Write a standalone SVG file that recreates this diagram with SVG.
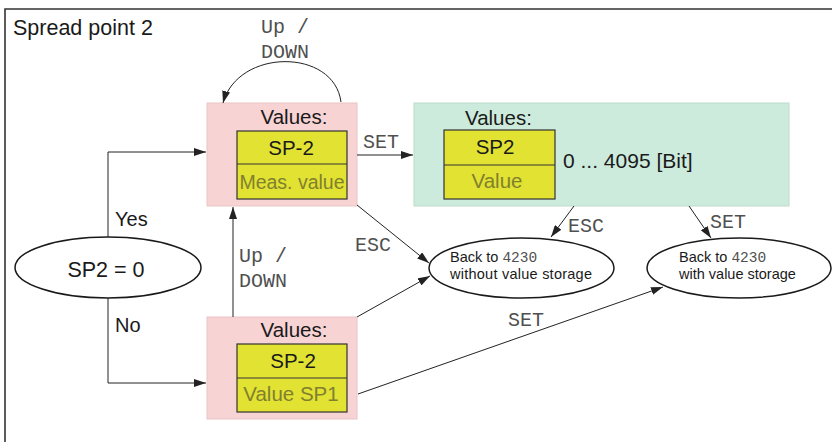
<svg xmlns="http://www.w3.org/2000/svg" width="832" height="442" viewBox="0 0 832 442">
<defs>
<style>
.sans{font-family:"Liberation Sans",Arial,Helvetica,sans-serif;fill:#1a1a1a}
.mono{font-family:"Liberation Mono","Courier New",monospace;fill:#505050}
.pink{fill:#f8d3d4;stroke:#e9c4c5;stroke-width:1}
.green{fill:#cdebdc;stroke:#bcdccc;stroke-width:1}
.yel{fill:#e2e233;stroke:#333;stroke-width:1.2}
.gray{fill:#80802e}
.ell{fill:#fff;stroke:#1a1a1a;stroke-width:1.5}
.ln{fill:none;stroke:#222;stroke-width:1}
</style>
<marker id="ah" viewBox="0 0 12 8" refX="12" refY="4" markerWidth="12" markerHeight="8" markerUnits="userSpaceOnUse" orient="auto">
<path d="M0,0 L12,4 L0,8 Z" fill="#222"/>
</marker>
</defs>
<rect width="832" height="442" fill="#fff"/>
<path d="M5,442 V9 H832" fill="none" stroke="#333" stroke-width="1.6"/>
<text class="sans" x="13" y="35" font-size="21.5">Spread point 2</text>

<g id="node-sp2-meas">
<rect class="pink" x="207" y="103" width="150" height="103"/>
<text class="sans" x="294" y="124" font-size="20.5" text-anchor="middle">Values:</text>
<rect class="yel" x="237" y="131" width="110" height="68"/>
<line x1="237" y1="164" x2="347" y2="164" stroke="#333" stroke-width="1.2"/>
<text class="sans" x="291" y="155" font-size="20.5" text-anchor="middle">SP-2</text>
<text class="sans gray" x="292" y="189" font-size="19.5" text-anchor="middle">Meas. value</text>
</g>

<g id="node-sp2-value">
<rect class="green" x="414" y="103" width="375" height="103"/>
<text class="sans" x="465" y="125" font-size="20.5">Values:</text>
<rect class="yel" x="444" y="130" width="111" height="69"/>
<line x1="444" y1="165" x2="555" y2="165" stroke="#333" stroke-width="1.2"/>
<text class="sans" x="495" y="154" font-size="20.5" text-anchor="middle">SP2</text>
<text class="sans gray" x="497" y="188" font-size="20.5" text-anchor="middle">Value</text>
<text class="sans" x="563" y="168" font-size="21">0 ... 4095 [Bit]</text>
</g>

<g id="node-sp2-sp1">
<rect class="pink" x="207" y="317" width="150" height="102"/>
<text class="sans" x="294" y="337" font-size="20.5" text-anchor="middle">Values:</text>
<rect class="yel" x="237" y="344" width="110" height="68"/>
<line x1="237" y1="378" x2="347" y2="378" stroke="#333" stroke-width="1.2"/>
<text class="sans" x="293" y="368" font-size="20.5" text-anchor="middle">SP-2</text>
<text class="sans gray" x="291" y="401" font-size="20.5" text-anchor="middle">Value SP1</text>
</g>

<g id="node-decision">
<ellipse class="ell" cx="108" cy="267.5" rx="93" ry="30.5"/>
<text class="sans" x="106" y="277" font-size="21.5" text-anchor="middle">SP2 = 0</text>
</g>

<g id="node-back-without">
<ellipse class="ell" cx="521.5" cy="268" rx="92.5" ry="30"/>
<text class="sans" x="450" y="262" font-size="14.5">Back to <tspan class="mono" fill="#666">4230</tspan></text>
<text class="sans" x="450" y="279" font-size="14.5" textLength="142">without value storage</text>
</g>

<g id="node-back-with">
<ellipse class="ell" cx="739" cy="268" rx="92" ry="30"/>
<text class="sans" x="679" y="262" font-size="14.5">Back to <tspan class="mono" fill="#666">4230</tspan></text>
<text class="sans" x="679" y="279" font-size="14.5">with value storage</text>
</g>

<g id="connectors">
<path class="ln" d="M341,102 C334,48 238,48 223,103" marker-end="url(#ah)"/>
<text class="mono" x="261" y="33" font-size="20">Up /</text>
<text class="mono" x="261" y="58" font-size="20">DOWN</text>

<path class="ln" d="M357,155 H413" marker-end="url(#ah)"/>
<text class="mono" x="363" y="148" font-size="20">SET</text>

<path class="ln" d="M108,237 V152 H206" marker-end="url(#ah)"/>
<text class="sans" x="115" y="226" font-size="20">Yes</text>
<path class="ln" d="M108,298 V383 H206" marker-end="url(#ah)"/>
<text class="sans" x="115" y="332" font-size="20">No</text>

<path class="ln" d="M233,317 V207" marker-end="url(#ah)"/>
<text class="mono" x="239" y="262" font-size="20">Up /</text>
<text class="mono" x="239" y="287" font-size="20">DOWN</text>

<path class="ln" d="M357,205 L429,263" marker-end="url(#ah)"/>
<text class="mono" x="355" y="251" font-size="20">ESC</text>
<path class="ln" d="M357,317 L430,276" marker-end="url(#ah)"/>

<path class="ln" d="M574,206 L551,237" marker-end="url(#ah)"/>
<text class="mono" x="568" y="232" font-size="20">ESC</text>
<path class="ln" d="M689,206 L711,238" marker-end="url(#ah)"/>
<text class="mono" x="710" y="228" font-size="20">SET</text>

<path class="ln" d="M358,394 L663,287" marker-end="url(#ah)"/>
<text class="mono" x="508" y="326" font-size="20">SET</text>
</g>
</svg>
